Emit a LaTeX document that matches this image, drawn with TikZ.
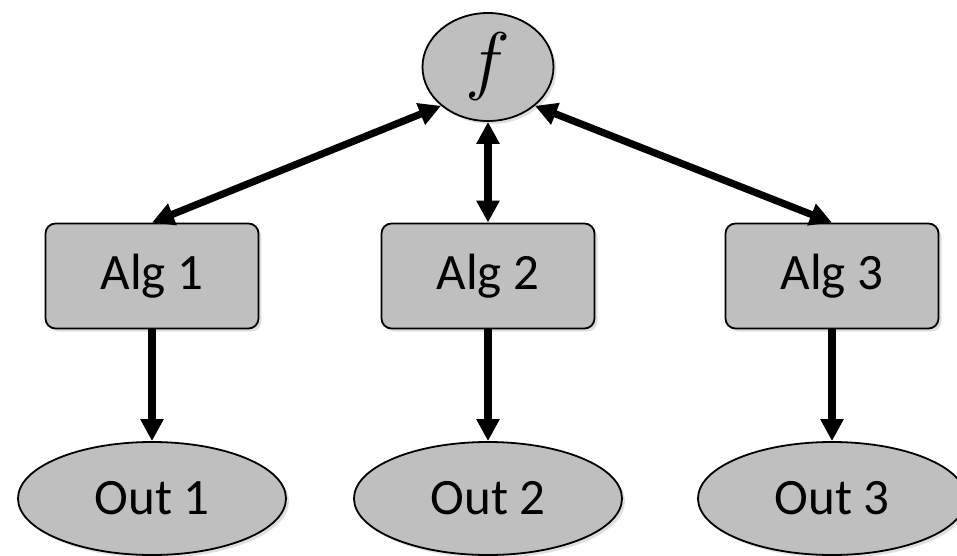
\RequirePackage{fix-cm}
\documentclass[tikz,border=0pt]{standalone}
\usepackage{fontspec}
\setmainfont{Carlito}
\usepackage{tikz}
\usetikzlibrary{arrows.meta,shapes.geometric,shadows}

\begin{document}
\begin{tikzpicture}[auto,node distance=104.5pt,>={Triangle[length=11pt,width=11pt]},
  soft shadow/.style={drop shadow={opacity=0.25,shadow xshift=1.5pt,shadow yshift=-1.5pt}},
  main node/.style={ellipse,draw,fill=black!25,line width=0.9pt,inner sep=0pt,soft shadow},
  alg node/.style={rectangle,rounded corners=5pt,draw,fill=black!25,line width=0.9pt,
    minimum width=106.5pt,minimum height=52.5pt,soft shadow,font=\fontsize{25.5}{30}\selectfont},
  out node/.style={main node,minimum width=134pt,minimum height=56.5pt,font=\fontsize{25.5}{30}\selectfont}]

  \useasboundingbox (-244pt,33.5pt) rectangle (234.5pt,-244.5pt);

  \node[main node,minimum width=65.5pt,minimum height=54pt] (f) {\fontsize{38}{40}\selectfont$f$};
  \node[alg node] (alg2) [below of=f] {Alg 2};
  \node[alg node] (alg1) [left of=alg2,node distance=168pt] {Alg 1};
  \node[alg node] (alg3) [right of=alg2,node distance=172pt] {Alg 3};
  \node[out node] (out1) [below of=alg1,node distance=111.25pt] {Out 1};
  \node[out node] (out2) [below of=alg2,node distance=111.25pt] {Out 2};
  \node[out node] (out3) [below of=alg3,node distance=111.25pt] {Out 3};

  \path[line width=3.6pt]
    (f.south west) edge[<->] (alg1.north)
    (f.south) edge[<->] (alg2.north)
    (f.south east) edge[<->] (alg3.north)
    (alg1) edge[->] (out1)
    (alg2) edge[->] (out2)
    (alg3) edge[->] (out3);
\end{tikzpicture}
\end{document}
